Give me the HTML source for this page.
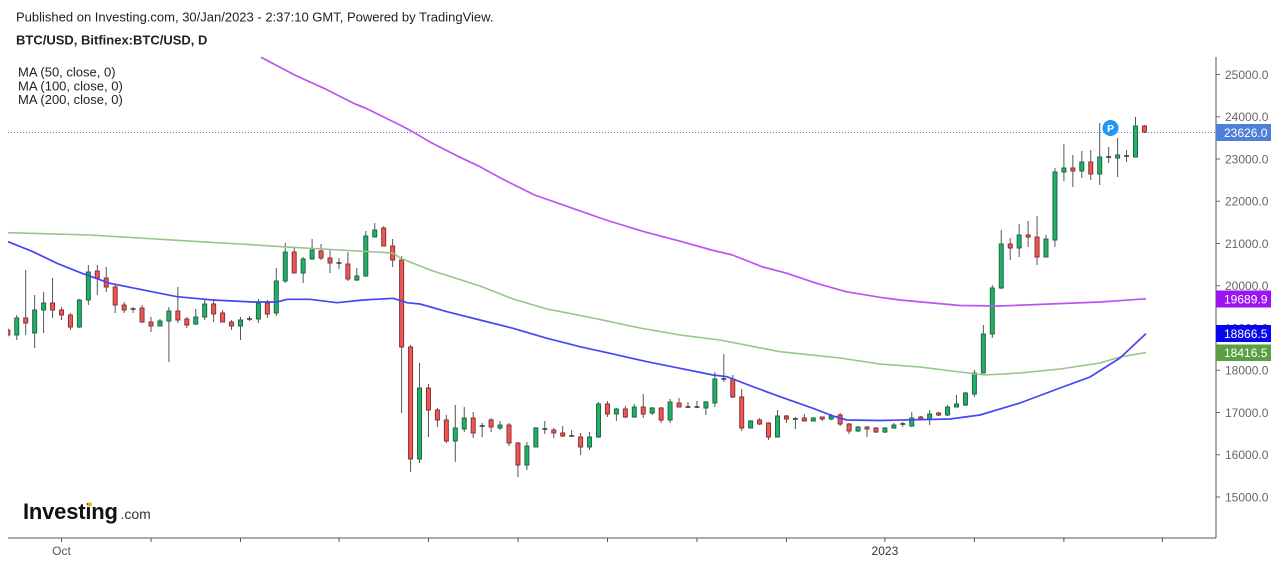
<!DOCTYPE html>
<html>
<head>
<meta charset="utf-8">
<style>
html,body{margin:0;padding:0;background:#fff;}
body{width:1278px;height:563px;overflow:hidden;}
svg{display:block;}
</style>
</head>
<body>
<svg width="1278" height="563" viewBox="0 0 1278 563" xmlns="http://www.w3.org/2000/svg" font-family="'Liberation Sans', Arial, sans-serif">
<defs>
<clipPath id="plot"><rect x="8" y="50" width="1208" height="488"/></clipPath>
</defs>
<rect width="1278" height="563" fill="#fff"/>

<!-- header text -->
<text x="16" y="21.7" font-size="13" fill="#222">Published on Investing.com, 30/Jan/2023 - 2:37:10 GMT, Powered by TradingView.</text>
<text x="16" y="44.5" font-size="13" font-weight="bold" fill="#222">BTC/USD, Bitfinex:BTC/USD, D</text>
<text x="18" y="76.3" font-size="13" fill="#222">MA (50, close, 0)</text>
<text x="18" y="90.4" font-size="13" fill="#222">MA (100, close, 0)</text>
<text x="18" y="104" font-size="13" fill="#222">MA (200, close, 0)</text>

<!-- current price dotted line -->
<line x1="8" y1="132.5" x2="1216" y2="132.5" stroke="#5b7fc9" stroke-width="1" stroke-dasharray="1,2"/>

<g clip-path="url(#plot)">
<!-- wicks -->
<path fill="none" stroke="#555" stroke-width="1" d="M7.8 328V337M16.75 315V340M25.7 270V335M34.65 295V348M43.6 292V333M52.55 278V318M61.5 307V320M70.45 313V330M79.4 299V328M88.35 265V305M97.3 265V295M106.25 267V292M115.2 285V313M124.15 302V313M133.1 307V313M142.05 305V323M151 317V332M159.95 319V326M168.9 307V362M177.85 287V323M186.8 317V328M195.75 309V325M204.7 299V320M213.65 299V322M222.6 310V322M231.55 320V330M240.5 317V340M249.45 316V321M258.4 299V323M267.35 300V318M276.3 268V316M285.25 243V283M294.2 248V273M303.15 257V283M312.1 239V260M321.05 244V260M330 249V273M338.95 258V269M347.9 252V281M356.85 268V281M365.8 231V277M374.75 223V237M383.7 226V246M392.65 239V267M401.6 256V413M410.55 345V472M419.5 363V463M428.45 384V437M437.4 408V427M446.35 415V443M455.3 405V462M464.25 407V432M473.2 412V438M482.15 423V437M491.1 418V432M500.05 421V430M509 423V446M517.95 442V477M526.9 442V470M535.85 427V447M544.8 421V434M553.75 428V438M562.7 426V437M571.65 430V437M580.6 433V455M589.55 432V450M598.5 402V438M607.45 401V417M616.4 408V421M625.35 406V418M634.3 404V418M643.25 394V418M652.2 407V415M661.15 407V423M670.1 399V423M679.05 398V407M688 402V408M696.95 401V408M705.9 401V415M714.85 372V407M723.8 354V382M732.75 375V398M741.7 389V431M750.65 420V428M759.6 418V425M768.55 422V440M777.5 410V437M786.45 415V423M795.4 417V429M804.35 414V421M813.3 417V421M822.25 417V421M831.2 414V420M840.15 413V426M849.1 423V434M858.05 426V432M867 426V437M875.95 427V433M884.9 427V433M893.85 423V429M902.8 422V427M911.75 412V427M920.7 416V420M929.65 410V425M938.6 412V416M947.55 405V416M956.5 395V407M965.45 392V406M974.4 370V397M983.35 325V373M992.3 285V338M1001.25 230V289M1010.2 238V260M1019.15 224V257M1028.1 221V247M1037.05 216V265M1046 235V257M1054.95 168V247M1063.9 144V181M1072.85 155V187M1081.8 151V178M1090.75 150V180M1099.7 123V185M1108.65 147V163M1117.6 138V177M1126.55 150V162M1135.5 117V157M1144.45 125V133"/>

<!-- green bodies -->
<g fill="#22b068" stroke="#1d6a44" stroke-width="1">
<rect x="14.75" y="318" width="4" height="17"/>
<rect x="32.65" y="310" width="4" height="23"/>
<rect x="41.6" y="303" width="4" height="7"/>
<rect x="77.4" y="300" width="4" height="27"/>
<rect x="86.35" y="272" width="4" height="28"/>
<rect x="157.95" y="321" width="4" height="5"/>
<rect x="166.9" y="311" width="4" height="10"/>
<rect x="193.75" y="317" width="4" height="7"/>
<rect x="202.7" y="304" width="4" height="13"/>
<rect x="238.5" y="320" width="4" height="6"/>
<rect x="256.4" y="303" width="4" height="16"/>
<rect x="274.3" y="281" width="4" height="32"/>
<rect x="283.25" y="252" width="4" height="29"/>
<rect x="301.15" y="259" width="4" height="14"/>
<rect x="310.1" y="250" width="4" height="9"/>
<rect x="354.85" y="276" width="4" height="4"/>
<rect x="363.8" y="236" width="4" height="40"/>
<rect x="372.75" y="230" width="4" height="7"/>
<rect x="417.5" y="388" width="4" height="71"/>
<rect x="453.3" y="428" width="4" height="13"/>
<rect x="462.25" y="418" width="4" height="11"/>
<rect x="498.05" y="425" width="4" height="3"/>
<rect x="524.9" y="446" width="4" height="19"/>
<rect x="533.85" y="428" width="4" height="19"/>
<rect x="587.55" y="437" width="4" height="10"/>
<rect x="596.5" y="404" width="4" height="33"/>
<rect x="614.4" y="409" width="4" height="5"/>
<rect x="632.3" y="407" width="4" height="10"/>
<rect x="650.2" y="408" width="4" height="5"/>
<rect x="668.1" y="402" width="4" height="18"/>
<rect x="703.9" y="402" width="4" height="6"/>
<rect x="712.85" y="379" width="4" height="24"/>
<rect x="748.65" y="421" width="4" height="7"/>
<rect x="775.5" y="416" width="4" height="21"/>
<rect x="811.3" y="418" width="4" height="3"/>
<rect x="829.2" y="416" width="4" height="3"/>
<rect x="856.05" y="427" width="4" height="4"/>
<rect x="882.9" y="428" width="4" height="4"/>
<rect x="891.85" y="425" width="4" height="3"/>
<rect x="909.75" y="418" width="4" height="8"/>
<rect x="927.65" y="414" width="4" height="5"/>
<rect x="945.55" y="407" width="4" height="8"/>
<rect x="954.5" y="404" width="4" height="3"/>
<rect x="963.45" y="393" width="4" height="12"/>
<rect x="972.4" y="373" width="4" height="21"/>
<rect x="981.35" y="334" width="4" height="39"/>
<rect x="990.3" y="288" width="4" height="46"/>
<rect x="999.25" y="244" width="4" height="44"/>
<rect x="1017.15" y="235" width="4" height="13"/>
<rect x="1044" y="239" width="4" height="18"/>
<rect x="1052.95" y="172" width="4" height="68"/>
<rect x="1061.9" y="168" width="4" height="4"/>
<rect x="1079.8" y="162" width="4" height="9"/>
<rect x="1097.7" y="157" width="4" height="17"/>
<rect x="1115.6" y="155" width="4" height="3"/>
<rect x="1133.5" y="126" width="4" height="31"/>
</g>

<!-- red bodies -->
<g fill="#ef5656" stroke="#8c3030" stroke-width="1">
<rect x="5.8" y="330" width="4" height="5"/>
<rect x="23.7" y="318" width="4" height="5"/>
<rect x="50.55" y="303" width="4" height="7"/>
<rect x="59.5" y="310" width="4" height="5"/>
<rect x="68.45" y="315" width="4" height="12"/>
<rect x="95.3" y="271" width="4" height="7"/>
<rect x="104.25" y="278" width="4" height="9"/>
<rect x="113.2" y="287" width="4" height="18"/>
<rect x="122.15" y="305" width="4" height="5"/>
<rect x="140.05" y="308" width="4" height="14"/>
<rect x="149" y="322" width="4" height="4"/>
<rect x="175.85" y="311" width="4" height="9"/>
<rect x="184.8" y="319" width="4" height="6"/>
<rect x="211.65" y="304" width="4" height="10"/>
<rect x="220.6" y="313" width="4" height="9"/>
<rect x="229.55" y="322" width="4" height="4"/>
<rect x="265.35" y="303" width="4" height="11"/>
<rect x="292.2" y="252" width="4" height="21"/>
<rect x="319.05" y="251" width="4" height="7"/>
<rect x="328" y="258" width="4" height="5"/>
<rect x="345.9" y="264" width="4" height="15"/>
<rect x="381.7" y="228" width="4" height="18"/>
<rect x="390.65" y="246" width="4" height="14"/>
<rect x="399.6" y="260" width="4" height="87"/>
<rect x="408.55" y="347" width="4" height="112"/>
<rect x="426.45" y="388" width="4" height="22"/>
<rect x="435.4" y="410" width="4" height="10"/>
<rect x="444.35" y="420" width="4" height="21"/>
<rect x="471.2" y="418" width="4" height="15"/>
<rect x="489.1" y="420" width="4" height="7"/>
<rect x="507" y="425" width="4" height="18"/>
<rect x="515.95" y="443" width="4" height="22"/>
<rect x="551.75" y="430" width="4" height="3"/>
<rect x="560.7" y="433" width="4" height="3"/>
<rect x="578.6" y="437" width="4" height="10"/>
<rect x="605.45" y="404" width="4" height="10"/>
<rect x="623.35" y="409" width="4" height="8"/>
<rect x="641.25" y="407" width="4" height="7"/>
<rect x="659.15" y="408" width="4" height="12"/>
<rect x="677.05" y="403" width="4" height="4"/>
<rect x="730.75" y="379" width="4" height="18"/>
<rect x="739.7" y="397" width="4" height="31"/>
<rect x="757.6" y="420" width="4" height="4"/>
<rect x="766.55" y="423" width="4" height="14"/>
<rect x="784.45" y="416" width="4" height="3"/>
<rect x="802.35" y="418" width="4" height="3"/>
<rect x="820.25" y="417" width="4" height="2"/>
<rect x="838.15" y="415" width="4" height="9"/>
<rect x="847.1" y="424" width="4" height="7"/>
<rect x="865" y="427" width="4" height="2"/>
<rect x="873.95" y="428" width="4" height="4"/>
<rect x="918.7" y="417" width="4" height="2"/>
<rect x="936.6" y="413" width="4" height="2"/>
<rect x="1008.2" y="244" width="4" height="4"/>
<rect x="1026.1" y="235" width="4" height="2"/>
<rect x="1035.05" y="237" width="4" height="20"/>
<rect x="1070.85" y="168" width="4" height="3"/>
<rect x="1088.75" y="162" width="4" height="12"/>
<rect x="1142.45" y="126" width="4" height="6"/>
</g>

<!-- dojis -->
<path fill="none" stroke="#333" stroke-width="1.5" d="M130.6 309h5M246.95 319h5M336.45 263h5M479.65 426h5M542.3 429h5M569.15 436h5M685.5 407h5M694.45 407h5M721.3 379h5M792.9 419h5M900.3 424h5M1106.15 157h5M1124.05 156h5"/>

<!-- MA 200 (green) -->
<polyline fill="none" stroke="#98c48a" stroke-width="1.6" stroke-linejoin="round" points="8,232.7 90,235 200,241.7 240,244 282,246.7 393,253 400,258 430,270 480,286 513,299 547,309 593,318 640,328 680,335 720,340 780,351.7 840,358 880,364 920,367 960,372 985,375 1020,373 1060,369 1100,363 1120,357 1146,352.6"/>

<!-- MA 50 (blue) -->
<polyline fill="none" stroke="#4646f5" stroke-width="1.7" stroke-linejoin="round" points="8,241.7 33,251.7 57,263.3 82,273.3 110,283.3 140,289.3 177,296.7 213,300 253,302 277,302 287,299.3 310,299.3 337,302.7 363,300 393,298.3 407,302.7 420,304 447,311.7 480,320 513,328.3 547,338.3 580,346.7 610,353.3 647,361.7 680,368.3 713,375 727,376.7 753,386.7 780,396.7 813,408.3 833,416 847,420 880,420.5 950,419 980,415 1020,403 1060,388 1090,377 1120,358 1146,333.6"/>

<!-- MA 100 (purple) -->
<polyline fill="none" stroke="#bb55f2" stroke-width="1.7" stroke-linejoin="round" points="261,57.3 294.7,75 324,88.3 353.6,103.3 366,108.3 400,125 412.6,131.7 429.4,141.7 458.9,156.7 480,166.7 501,178.3 534.6,195 568,206.7 606,220 644,231.7 682,241.7 711.4,250 732.4,255 762,266.7 787,273.3 816.6,283.3 846,291.7 880,297.3 900,300 960,305.5 1000,306 1050,304 1100,302 1146,298.8"/>
</g>

<!-- P badge -->
<circle cx="1110.5" cy="128" r="8" fill="#2196f3"/>
<text x="1110.5" y="131.8" font-size="10.5" font-weight="bold" fill="#fff" text-anchor="middle">P</text>

<!-- axes -->
<line x1="1216" y1="57" x2="1216" y2="538" stroke="#555" stroke-width="1"/>
<line x1="8" y1="538" x2="1216" y2="538" stroke="#555" stroke-width="1"/>

<!-- price ticks -->
<path fill="none" stroke="#666" stroke-width="1" d="M1216 74.5h4M1216 116.7h4M1216 159h4M1216 201.2h4M1216 243.5h4M1216 285.7h4M1216 328h4M1216 370.2h4M1216 412.5h4M1216 454.7h4M1216 497h4"/>
<g font-size="12" fill="#666">
<text x="1225" y="78.8">25000.0</text>
<text x="1225" y="121">24000.0</text>
<text x="1225" y="163.3">23000.0</text>
<text x="1225" y="205.5">22000.0</text>
<text x="1225" y="247.8">21000.0</text>
<text x="1225" y="290">20000.0</text>
<text x="1225" y="332.3">19000.0</text>
<text x="1225" y="374.5">18000.0</text>
<text x="1225" y="416.8">17000.0</text>
<text x="1225" y="459">16000.0</text>
<text x="1225" y="501.3">15000.0</text>
</g>

<!-- price labels -->
<rect x="1216" y="124" width="55" height="17" fill="#4f7fd8"/>
<text x="1224" y="137" font-size="12" fill="#fff">23626.0</text>
<rect x="1216" y="290.5" width="55" height="17" fill="#9c14f2"/>
<text x="1224" y="303.3" font-size="12" fill="#fff">19689.9</text>
<rect x="1216" y="325" width="55" height="17" fill="#0707ee"/>
<text x="1224" y="338" font-size="12" fill="#fff">18866.5</text>
<rect x="1216" y="344.5" width="55" height="16.5" fill="#5a9e46"/>
<text x="1224" y="357.2" font-size="12" fill="#fff">18416.5</text>

<!-- time ticks -->
<path fill="none" stroke="#555" stroke-width="1" d="M61.5 538v4M151 538v4M240.5 538v4M339 538v4M428.5 538v4M518 538v4M607.5 538v4M697 538v4M786.5 538v4M884.9 538v4M974.4 538v4M1063.9 538v4M1162.4 538v4"/>
<text x="61.5" y="555" font-size="12" fill="#555" text-anchor="middle">Oct</text>
<text x="884.9" y="555" font-size="12" fill="#333" text-anchor="middle">2023</text>

<!-- logo -->
<text x="23" y="519" font-size="22" font-weight="bold" fill="#111" letter-spacing="-0.2">Investing</text>
<rect x="87.6" y="502.5" width="4" height="3.5" fill="#f5a623"/>
<text x="120.5" y="519" font-size="14" fill="#333">.com</text>
</svg>
</body>
</html>
